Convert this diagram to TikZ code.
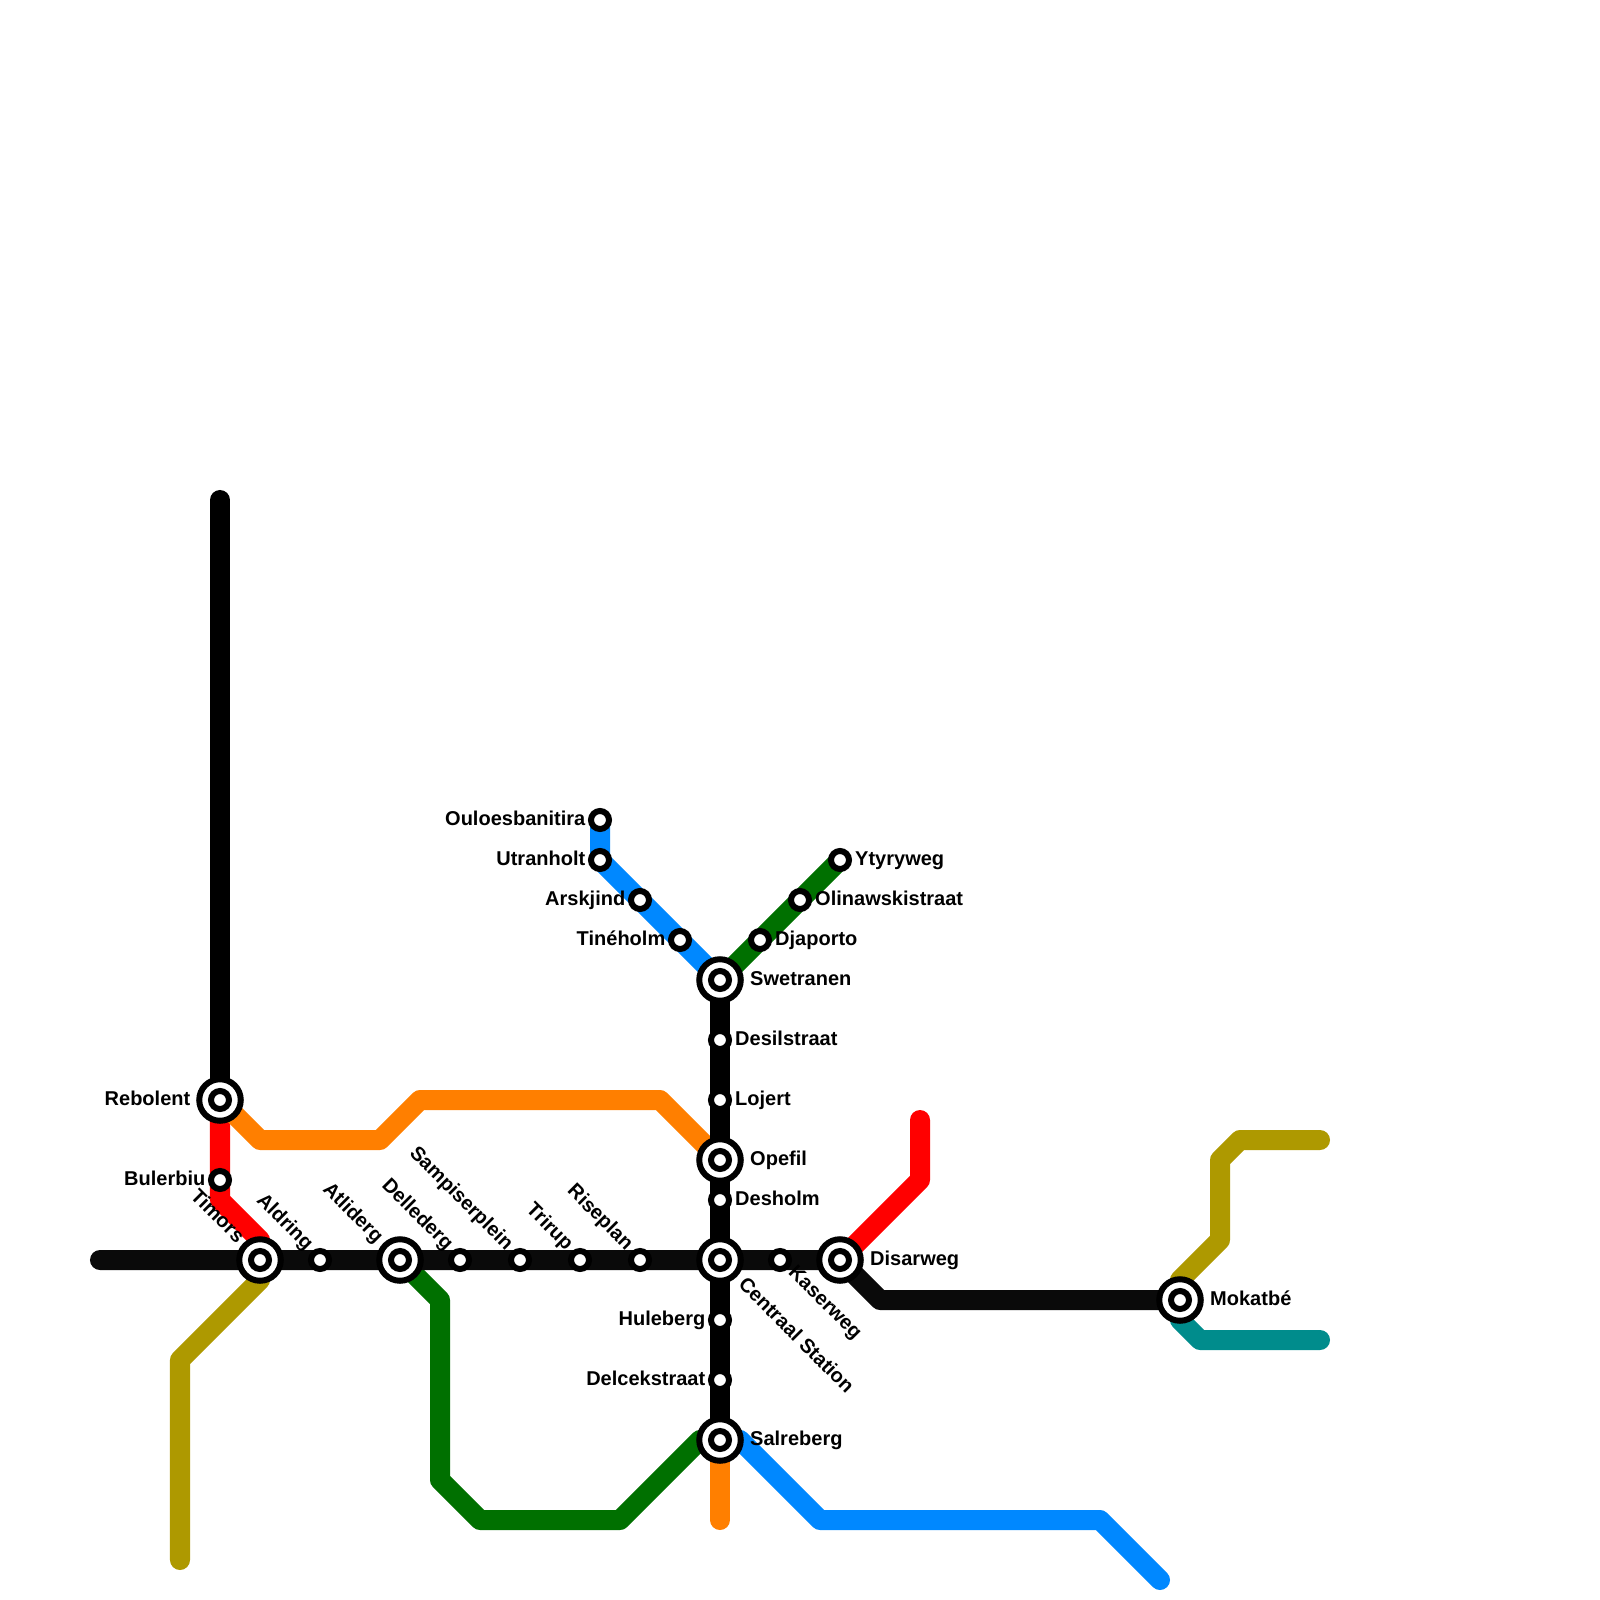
\documentclass[tikz,border=0pt]{standalone}
\usepackage{fontspec}
\setmainfont{Liberation Sans}
\definecolor{lred}{HTML}{FF0000}
\definecolor{lorange}{HTML}{FF7F00}
\definecolor{lgreen}{HTML}{007000}
\definecolor{lblue}{HTML}{0088FF}
\definecolor{lolive}{HTML}{AE9900}
\definecolor{lteal}{HTML}{008C8C}
\definecolor{lblackh}{HTML}{0A0A0A}
\tikzset{
  metro/.style={line width=0.2cm,line cap=round,line join=round},
  stop/.style={circle,draw=black,fill=white,line width=0.06cm,minimum size=0.18cm,inner sep=0pt,outer sep=0pt},
  hub/.style={circle,draw=black,fill=white,line width=0.06cm,minimum size=0.415cm,inner sep=0pt,outer sep=0pt},
  hubcore/.style={circle,draw=black,fill=white,line width=0.06cm,minimum size=0.18cm,inner sep=0pt,outer sep=0pt},
  txt/.style={font=\fontsize{5.69pt}{6.5pt}\selectfont\bfseries,inner sep=0pt,text=black},
  lr/.style={txt,anchor=base west,xshift=-0.005cm,yshift=-0.01cm},
  ll/.style={txt,anchor=base east,xshift=0.01cm,yshift=-0.01cm},
  dl/.style={txt,anchor=base east,rotate=-45,xshift=0.01cm,yshift=-0.01cm},
  dr/.style={txt,anchor=base west,rotate=-45}
}
\begin{document}
\begin{tikzpicture}[x=0.01cm,y=-0.01cm]
\useasboundingbox (0,0) rectangle (1600,1600);
% station positions
\coordinate (rebolent) at (220,1100);
\coordinate (bulerbiu) at (220,1180);
\coordinate (timors) at (260,1260);
\coordinate (aldring) at (320,1260);
\coordinate (atliderg) at (400,1260);
\coordinate (dellederg) at (460,1260);
\coordinate (sampi) at (520,1260);
\coordinate (trirup) at (580,1260);
\coordinate (riseplan) at (640,1260);
\coordinate (centraal) at (720,1260);
\coordinate (kaserweg) at (780,1260);
\coordinate (disarweg) at (840,1260);
\coordinate (mokatbe) at (1180,1300);
\coordinate (swetranen) at (720,980);
\coordinate (desilstraat) at (720,1040);
\coordinate (lojert) at (720,1100);
\coordinate (opefil) at (720,1160);
\coordinate (desholm) at (720,1200);
\coordinate (huleberg) at (720,1320);
\coordinate (delcek) at (720,1380);
\coordinate (salreberg) at (720,1440);
\coordinate (ouloes) at (600,820);
\coordinate (utranholt) at (600,860);
\coordinate (arskjind) at (640,900);
\coordinate (tineholm) at (680,940);
\coordinate (djaporto) at (760,940);
\coordinate (olinaw) at (800,900);
\coordinate (ytyry) at (840,860);
% free ends and bends
\coordinate (bkTop) at (220,500);
\coordinate (bkLeft) at (100,1260);
\coordinate (bkA) at (880,1300);
\coordinate (rdA) at (220,1200);
\coordinate (rdB) at (260,1240);
\coordinate (rdC) at (920,1180);
\coordinate (rdD) at (920,1120);
\coordinate (olA) at (260,1280);
\coordinate (olB) at (180,1360);
\coordinate (olC) at (180,1560);
\coordinate (olD) at (1180,1280);
\coordinate (olE) at (1220,1240);
\coordinate (olF) at (1220,1160);
\coordinate (olG) at (1240,1140);
\coordinate (olH) at (1320,1140);
\coordinate (teA) at (1180,1320);
\coordinate (teB) at (1200,1340);
\coordinate (teC) at (1320,1340);
\coordinate (orA) at (260,1140);
\coordinate (orB) at (380,1140);
\coordinate (orC) at (420,1100);
\coordinate (orD) at (660,1100);
\coordinate (orE) at (720,1520);
\coordinate (grA) at (440,1300);
\coordinate (grB) at (440,1480);
\coordinate (grC) at (480,1520);
\coordinate (grD) at (620,1520);
\coordinate (grE) at (700,1440);
\coordinate (blA) at (740,1440);
\coordinate (blB) at (820,1520);
\coordinate (blC) at (1100,1520);
\coordinate (blD) at (1160,1580);
% coloured lines
\draw[metro,lred] (rebolent) -- (rdA) -- (rdB) -- (timors);
\draw[metro,lred] (disarweg) -- (rdC) -- (rdD);
\draw[metro,lolive] (timors) -- (olA) -- (olB) -- (olC);
\draw[metro,lolive] (mokatbe) -- (olD) -- (olE) -- (olF) -- (olG) -- (olH);
\draw[metro,lteal] (mokatbe) -- (teA) -- (teB) -- (teC);
\draw[metro,lorange] (rebolent) -- (orA) -- (orB) -- (orC) -- (orD) -- (opefil);
\draw[metro,lorange] (salreberg) -- (orE);
\draw[metro,lgreen] (atliderg) -- (grA) -- (grB) -- (grC) -- (grD) -- (grE) -- (salreberg);
\draw[metro,lgreen] (swetranen) -- (ytyry);
\draw[metro,lblue] (ouloes) -- (utranholt) -- (swetranen);
\draw[metro,lblue] (salreberg) -- (blA) -- (blB) -- (blC) -- (blD);
\draw[metro,lblackh] (bkLeft) -- (disarweg) -- (bkA) -- (mokatbe);
\draw[metro,black] (bkTop) -- (rebolent);
\draw[metro,black] (swetranen) -- (salreberg);
% stops
\foreach \s in {bulerbiu,aldring,dellederg,sampi,trirup,riseplan,kaserweg,desilstraat,lojert,desholm,huleberg,delcek,ouloes,utranholt,arskjind,tineholm,djaporto,olinaw,ytyry}
  \node[stop] (n\s) at (\s) {};
\foreach \s in {rebolent,timors,atliderg,centraal,disarweg,mokatbe,swetranen,opefil,salreberg}{
  \node[hub] (n\s) at (\s) {};
  \node[hubcore] (c\s) at (\s) {};
}
% labels
\node[ll] (t1) at (190,1104) {Rebolent};
\node[ll] (t2) at (205,1184) {Bulerbiu};
\node[dl] (t3) at (237,1243) {Timors};
\node[dl] (t4) at (306,1250) {Aldring};
\node[dl] (t5) at (376,1243) {Atliderg};
\node[dl] (t6) at (446,1250) {Dellederg};
\node[dl] (t7) at (506,1250) {Sampiserplein};
\node[dl] (t8) at (566,1250) {Trirup};
\node[dl] (t9) at (626,1250) {Riseplan};
\node[dr] (t10) at (737,1285) {Centraal Station};
\node[dr] (t11) at (787,1273) {Kaserweg};
\node[lr] (t12) at (870,1264) {Disarweg};
\node[lr] (t13) at (1210,1304) {Mokatbé};
\node[lr] (t14) at (750,984) {Swetranen};
\node[lr] (t15) at (735,1044) {Desilstraat};
\node[lr] (t16) at (735,1104) {Lojert};
\node[lr] (t17) at (750,1164) {Opefil};
\node[lr] (t18) at (735,1204) {Desholm};
\node[ll] (t19) at (705,1324) {Huleberg};
\node[ll] (t20) at (705,1384) {Delcekstraat};
\node[lr] (t21) at (750,1444) {Salreberg};
\node[ll] (t22) at (585,824) {Ouloesbanitira};
\node[ll] (t23) at (585,864) {Utranholt};
\node[ll] (t24) at (625,904) {Arskjind};
\node[ll] (t25) at (665,944) {Tinéholm};
\node[lr] (t26) at (775,944) {Djaporto};
\node[lr] (t27) at (815,904) {Olinawskistraat};
\node[lr] (t28) at (855,864) {Ytyryweg};
\end{tikzpicture}
\end{document}
